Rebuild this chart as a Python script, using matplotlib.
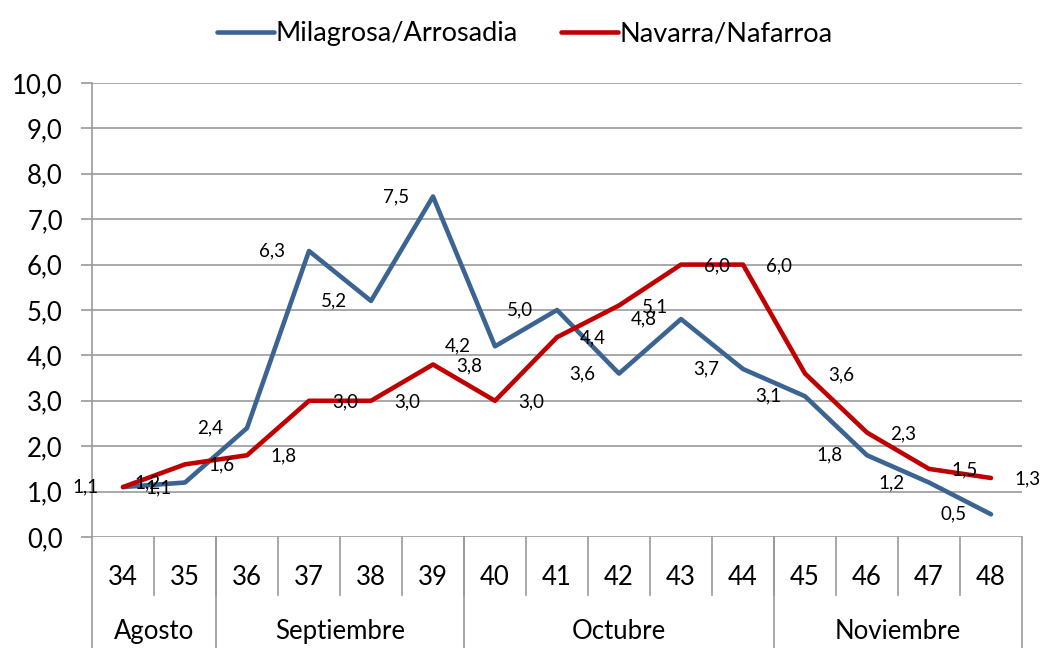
"""Incidencia semanal: Milagrosa/Arrosadia vs Navarra/Nafarroa (semanas 34-48)."""

import matplotlib.pyplot as plt
from matplotlib.transforms import blended_transform_factory

plt.rcParams["font.family"] = ["Lato", "DejaVu Sans"]

weeks = ["34", "35", "36", "37", "38", "39", "40", "41", "42", "43", "44", "45", "46", "47", "48"]
months = ["Agosto", "Septiembre", "Octubre", "Noviembre"]
month_weeks = [2, 4, 5, 4]

milagrosa = [1.1, 1.2, 2.4, 6.3, 5.2, 7.5, 4.2, 5.0, 3.6, 4.8, 3.7, 3.1, 1.8, 1.2, 0.5]
navarra = [1.1, 1.6, 1.8, 3.0, 3.0, 3.8, 3.0, 4.4, 5.1, 6.0, 6.0, 3.6, 2.3, 1.5, 1.3]

BLUE = "#3B6493"
RED = "#C00000"
GRID = "#999999"
AXFS = 18.5


def fmt(v):
    return f"{v:.1f}".replace(".", ",")


fig = plt.figure(figsize=(10.43, 6.48), dpi=100)
ax = fig.add_axes([92 / 1043, 111 / 648, 930 / 1043, 454 / 648])

x = list(range(len(weeks)))
ax.plot(x, milagrosa, color=BLUE, lw=3.3, solid_capstyle="round", label="Milagrosa/Arrosadia")
ax.plot(x, navarra, color=RED, lw=3.3, solid_capstyle="round", label="Navarra/Nafarroa")

# data labels: blue to the left of the point, red to the right
for xi, v in zip(x, milagrosa):
    ax.annotate(fmt(v), (xi, v), xytext=(-37, 0), textcoords="offset pixels",
                ha="center", va="center", fontsize=13.5, color="black")
for xi, v in zip(x, navarra):
    ax.annotate(fmt(v), (xi, v), xytext=(36, -1), textcoords="offset pixels",
                ha="center", va="center", fontsize=13.5, color="black")

ax.set_xlim(-0.5, len(weeks) - 0.5)
ax.set_ylim(0, 10)
ax.set_yticks(range(0, 11))
ax.set_yticklabels([fmt(v) for v in range(0, 11)], fontsize=AXFS)
ax.tick_params(axis="y", length=8, width=1.2, color=GRID, pad=13)
ax.set_xticks([])
ax.grid(axis="y", color=GRID, lw=1.2)
ax.set_axisbelow(True)
for side in ["top", "right", "bottom"]:
    ax.spines[side].set_visible(False)
ax.spines["left"].set_color(GRID)
ax.spines["left"].set_linewidth(1.2)

# two-level category axis
trans = blended_transform_factory(ax.transData, ax.transAxes)
for i, w in enumerate(weeks):
    ax.text(i, -0.09, w, transform=trans, ha="center", va="center", fontsize=AXFS)
for i in range(1, len(weeks)):
    ax.plot([i - 0.5, i - 0.5], [0, -0.128], transform=trans, color=GRID, lw=1.2, clip_on=False)

start = 0
bounds = [-0.5]
for name, n in zip(months, month_weeks):
    ax.text(start + (n - 1) / 2, -0.209, name, transform=trans, ha="center", va="center", fontsize=AXFS)
    start += n
    bounds.append(start - 0.5)
for b in bounds:
    ax.plot([b, b], [0, -0.26], transform=trans, color=GRID, lw=1.2, clip_on=False)

fig.legend(loc="upper center", bbox_to_anchor=(0.503, 1.005), ncol=2, frameon=False,
           fontsize=19.5, handlelength=2.1, handletextpad=0.05, columnspacing=1.6)

fig.savefig("out.png", dpi=100)
